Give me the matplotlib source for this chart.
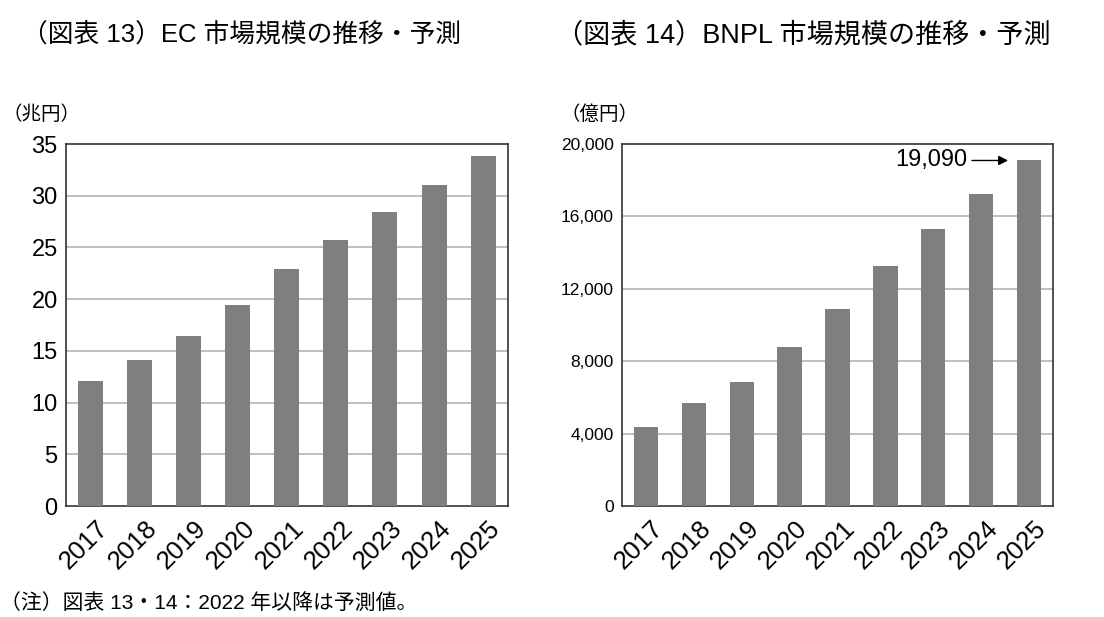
import matplotlib
matplotlib.use('Agg')
import matplotlib.pyplot as plt
from matplotlib.transforms import ScaledTranslation
import numpy as np

plt.rcParams['font.family'] = ['Liberation Sans', 'Noto Sans CJK JP', 'DejaVu Sans']

years = ['2017', '2018', '2019', '2020', '2021', '2022', '2023', '2024', '2025']
ec_values = [12.1, 14.1, 16.4, 19.4, 22.9, 25.7, 28.4, 31.0, 33.8]
bnpl_values = [4370, 5690, 6850, 8780, 10880, 13260, 15300, 17240, 19090]

ec_ticks = [0, 5, 10, 15, 20, 25, 30, 35]
bnpl_ticks = [0, 4000, 8000, 12000, 16000, 20000]

bar_color = '#7f7f7f'
grid_color = '#b4b4b4'
frame_color = '#333333'

fig = plt.figure(figsize=(11.04, 6.17), dpi=100)

ax1 = fig.add_axes([0.0598, 0.1799, 0.400, 0.5867])
ax2 = fig.add_axes([0.5634, 0.1799, 0.3904, 0.5867])

x = np.arange(len(years))

def setup(ax, values, ticks, ticklabels, tick_size):
    ax.bar(x, values, width=0.51, color=bar_color, zorder=3)
    ax.set_xlim(-0.5, len(years) - 0.5)
    ax.set_ylim(ticks[0], ticks[-1])
    ax.set_yticks(ticks)
    ax.set_yticklabels(ticklabels, fontsize=tick_size)
    for t in ticks[1:-1]:
        ax.axhline(t, color=grid_color, linewidth=1.2, zorder=1)
    ax.set_xticks(x)
    ax.set_xticklabels(years, rotation=45, ha='right', rotation_mode='anchor', fontsize=18.5)
    ax.tick_params(axis='both', length=0, pad=6)
    ax.tick_params(axis='x', pad=7)
    for sp in ax.spines.values():
        sp.set_color(frame_color)
        sp.set_linewidth(1.2)
    # shift year labels slightly to the right of bar centre
    for lbl in ax.get_xticklabels():
        lbl.set_transform(lbl.get_transform() + ScaledTranslation(0.05, 0, fig.dpi_scale_trans))

setup(ax1, ec_values, ec_ticks, [str(t) for t in ec_ticks], 17)
setup(ax2, bnpl_values, bnpl_ticks, ['{:,}'.format(t) for t in bnpl_ticks], 12.5)

# arrow for last BNPL value
ax2.annotate('', xy=(7.62, bnpl_values[-1]), xytext=(6.75, bnpl_values[-1]),
             arrowprops=dict(arrowstyle='-|>', color='black', lw=1.0, mutation_scale=14), zorder=5)
ax2.text(6.72, bnpl_values[-1], '{:,}'.format(bnpl_values[-1]), ha='right', va='center', fontsize=17)

# titles
fig.text(0.020, 0.943, '（図表 13）EC 市場規模の推移・予測', fontsize=18.5, va='center', ha='left')
fig.text(0.504, 0.943, '（図表 14）BNPL 市場規模の推移・予測', fontsize=19.5, va='center', ha='left')

# unit labels
fig.text(0.002, 0.814, '（兆円）', fontsize=14, va='center', ha='left')
fig.text(0.508, 0.814, '（億円）', fontsize=14, va='center', ha='left')

# note
fig.text(0.0, 0.022, '（注）図表 13・14：2022 年以降は予測値。', fontsize=15, va='center', ha='left')

fig.savefig('out.png', dpi=100, facecolor='white')
